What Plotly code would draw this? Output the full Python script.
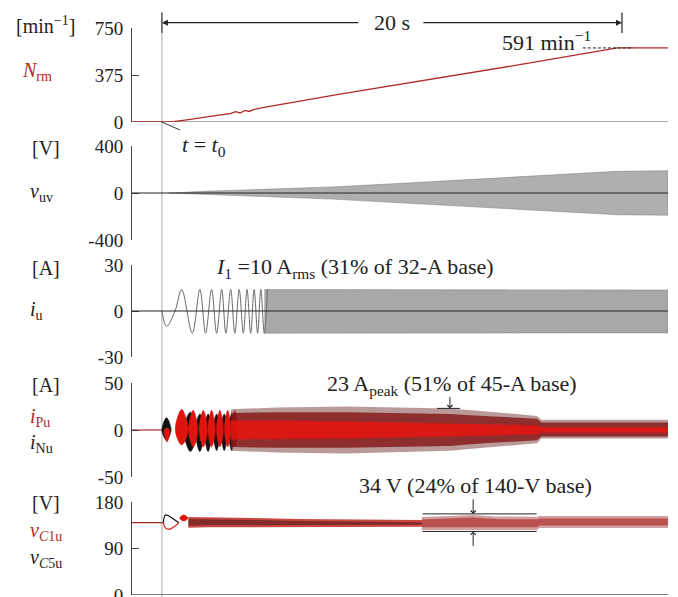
import plotly.graph_objects as go

W, H = 678, 597
ML, MR = 132, 10
FONT = "Liberation Serif"
RED = "#e0140f"
DRED = "#b02a2a"

# ---------------- data ----------------
t_range = [-1.3, 22.0]          # s, t = 0 is t0
ramp_end = 20.0                 # s
N_final = 591                   # min^-1

# speed N_rm
t_N = [-1.3, 0, 0.4, 1.0, 1.65, 2.5, 3.0, 3.2, 3.4, 3.6, 3.8, 4.0, 4.5, 7.74, 12, 16, 19.8, 22]
N_rm = [0, 0, 0, 15, 32, 55, 68, 82, 72, 92, 84, 100, 118, 222, 350, 471, 591, 591]

# v_uv envelope
vuv_t = [0.3, 1, 2, 3, 4, 5, 7.4, 10, 13, 16, 19.8, 22]
vuv_amp = [0, 8, 16, 22, 28, 35, 52, 78, 110, 145, 185, 190]

# i_u: first visible extremes, then envelope
iu_t = [0, 0.20, 0.57, 0.86, 1.32, 1.65, 1.90, 2.16, 2.38, 2.60, 2.78, 2.99, 3.17,
        3.36, 3.54, 3.70, 3.86, 4.01, 4.16, 4.30, 4.45, 4.59]
iu_v = [0, -10, 0, 14, -14.5, 14, -14.5, 14, -14.5, 14, -14.5, 14, -14.5,
        14, -14.5, 14, -14.5, 14, -14.5, 14, -14.5, 14]
iu_band_t = [4.45, 6, 10, 14, 18, 20, 22]
iu_band_hi = [14, 14, 14, 14, 13.8, 13.8, 13.8]
iu_band_lo = [-14.5, -14.5, -14.5, -14.5, -14.3, -14.3, -14.3]

# i_Pu / i_Nu early lobes (centre t, half width, top, bottom)
red_lobe_t = [0.22, 0.86, 1.36, 1.80, 2.16, 2.52, 2.86, 3.17]
red_lobe_hw = [0.12, 0.28, 0.2, 0.18, 0.16, 0.15, 0.14, 0.13]
red_lobe_top = [2, 22, 21, 21, 21, 21, 21, 21]
red_lobe_bot = [-13, -16, -18, -18, -18, -18, -18, -18]
blk_lobe_t = [0.2, 1.24, 1.65, 2.01, 2.38, 2.71, 3.03]
blk_lobe_hw = [0.2, 0.3, 0.2, 0.17, 0.16, 0.15, 0.14]
blk_lobe_top = [13, 19, 17, 17, 17, 17, 17]
blk_lobe_bot = [-11, -23, -23, -23, -22, -22, -22]
# i_Pu / i_Nu dense envelope
ipn_t = [3.0, 5, 8, 10, 12.5, 14, 15.5, 16.3, 16.5, 18, 20, 22]
ipn_outer_hi = [22, 24, 25, 24, 23, 20, 17, 15, 11, 11, 11, 11]
ipn_outer_lo = [-22, -24, -25, -24, -22, -19, -16, -14, -9, -9, -9, -9]
ipn_mid_hi = [18, 19, 19, 18, 17, 15, 13, 12, 8, 8, 8, 8]
ipn_mid_lo = [-18, -19, -19, -18, -17, -14, -12, -11, -7, -7, -7, -7]
ipn_core_hi = [10, 10, 9, 8, 7, 6, 5, 5, 3, 3, 3, 3]
ipn_core_lo = [-10, -10, -9, -8, -7, -6, -5, -5, -3, -3, -3, -3]
ipn_peak = 23  # A_peak marked

# capacitor voltages
vc_dc = 140
vc_ripple_pp = 34
knot_t = [0.06, 0.15, 0.3, 0.5, 0.74]
knot_top = [140, 155, 153, 147, 140]
knot_bot = [140, 130, 127, 131, 140]
vc_blob_t = [0.95]
vc_blob_hw = [0.18]
vc_blob_top = [155]
vc_blob_bot = [143]
vc1_t = [1.15, 2, 4, 6, 8, 10, 11.3]
vc1_hi = [151, 150, 149, 147, 146, 145, 145]
vc1_lo = [130, 131, 132, 132, 132, 132, 132]
vc2_t = [11.3, 12.5, 13.5, 14.5, 16.3, 16.4, 18, 20, 22]
vc2_hi = [151, 153, 155, 152, 151.5, 153, 153, 153, 153]
vc2_lo = [126, 125, 125, 126, 126, 129.5, 129.5, 129.5, 129.5]

# axes
rng_N, tick_N, lab_N = [0, 750], [0, 375, 750], ["0", "375", "750"]
rng_v, tick_v, lab_v = [-400, 400], [-400, 0, 400], ["-400", "0", "400"]
rng_i, tick_i, lab_i = [-30, 30], [-30, 0, 30], ["-30", "0", "30"]
rng_p, tick_p, lab_p = [-50, 50], [-50, 0, 50], ["-50", "0", "50"]
rng_c, tick_c, lab_c = [0, 180], [0, 90, 180], ["0", "90", "180"]


# ---------------- helpers ----------------
def px(x):
    return (x - ML) / (W - ML - MR)


def py(y):
    return 1 - y / H


def dom(top, bot):
    return [1 - bot / H, 1 - top / H]


def band(t, hi, lo):
    return list(t) + list(t)[::-1], list(hi) + list(lo)[::-1]


def lobes(tc, hw, top, bot):
    xs, ys = [], []
    for c, w, a, b in zip(tc, hw, top, bot):
        m = (a + b) / 2 if b > 0 else 0
        xs += [c - w, c, c + w, c, c - w, None]
        ys += [m, a, m, b, m, None]
    return xs, ys


fig = go.Figure()

# panel 1: speed
fig.add_trace(go.Scatter(x=t_N, y=N_rm, mode="lines", line=dict(color=DRED, width=1.3),
                         xaxis="x", yaxis="y"))

# panel 2: v_uv band
bx, by = band(vuv_t, vuv_amp, [-a for a in vuv_amp])
fig.add_trace(go.Scatter(x=bx, y=by, fill="toself", mode="lines",
                         line=dict(color="rgba(90,90,90,0.6)", width=0.6),
                         fillcolor="rgba(110,110,110,0.55)", xaxis="x", yaxis="y2"))

# panel 3: i_u
fig.add_trace(go.Scatter(x=iu_t, y=iu_v, mode="lines", line=dict(color="#6a6a6a", width=1, shape="spline"),
                         xaxis="x", yaxis="y3"))
bx, by = band(iu_band_t, iu_band_hi, iu_band_lo)
fig.add_trace(go.Scatter(x=bx, y=by, fill="toself", mode="lines",
                         line=dict(color="rgba(100,100,100,0.6)", width=0.6),
                         fillcolor="rgba(110,110,110,0.6)", xaxis="x", yaxis="y3"))

# panel 4: arm currents
fig.add_trace(go.Scatter(x=[t_range[0], 0], y=[0, 0], mode="lines", line=dict(color=DRED, width=1.2),
                         xaxis="x", yaxis="y4"))
lx, ly = lobes(blk_lobe_t, blk_lobe_hw, blk_lobe_top, blk_lobe_bot)
fig.add_trace(go.Scatter(x=lx, y=ly, fill="toself", mode="lines", line=dict(color="#111", width=0.5, shape="spline"),
                         fillcolor="#111", xaxis="x", yaxis="y4"))
lx, ly = lobes(red_lobe_t, red_lobe_hw, red_lobe_top, red_lobe_bot)
fig.add_trace(go.Scatter(x=lx, y=ly, fill="toself", mode="lines", line=dict(color=RED, width=0.5, shape="spline"),
                         fillcolor=RED, xaxis="x", yaxis="y4"))
for hi, lo, fc in [(ipn_outer_hi, ipn_outer_lo, "rgba(130,70,70,0.55)"),
                   (ipn_mid_hi, ipn_mid_lo, "rgba(130,15,15,0.78)"),
                   (ipn_core_hi, ipn_core_lo, "rgba(230,20,15,0.85)")]:
    bx, by = band(ipn_t, hi, lo)
    fig.add_trace(go.Scatter(x=bx, y=by, fill="toself", mode="lines", line=dict(width=0),
                             fillcolor=fc, xaxis="x", yaxis="y4"))

# panel 5: capacitor voltages
fig.add_trace(go.Scatter(x=[t_range[0], knot_t[0]], y=[vc_dc, vc_dc], mode="lines",
                         line=dict(color="#8a2020", width=1.2), xaxis="x", yaxis="y5"))
fig.add_trace(go.Scatter(x=knot_t, y=knot_top, mode="lines", line=dict(color="#111", width=1.2, shape="spline"),
                         xaxis="x", yaxis="y5"))
fig.add_trace(go.Scatter(x=knot_t, y=knot_bot, mode="lines", line=dict(color=RED, width=1.2, shape="spline"),
                         xaxis="x", yaxis="y5"))
lx, ly = lobes(vc_blob_t, vc_blob_hw, vc_blob_top, vc_blob_bot)
fig.add_trace(go.Scatter(x=lx, y=ly, fill="toself", mode="lines", line=dict(color=RED, width=0.5, shape="spline"),
                         fillcolor=RED, xaxis="x", yaxis="y5"))
bx, by = band(vc1_t, vc1_hi, vc1_lo)
fig.add_trace(go.Scatter(x=bx, y=by, fill="toself", mode="lines", line=dict(width=0),
                         fillcolor="rgba(190,25,20,0.8)", xaxis="x", yaxis="y5"))
bx, by = band(vc1_t, [v - 4 for v in vc1_hi], [v + 4 for v in vc1_lo])
fig.add_trace(go.Scatter(x=bx, y=by, fill="toself", mode="lines", line=dict(width=0),
                         fillcolor="rgba(40,10,10,0.45)", xaxis="x", yaxis="y5"))
bx, by = band(vc2_t, vc2_hi, vc2_lo)
fig.add_trace(go.Scatter(x=bx, y=by, fill="toself", mode="lines", line=dict(width=0),
                         fillcolor="rgba(170,80,80,0.55)", xaxis="x", yaxis="y5"))
bx, by = band(vc2_t, [v - 5 for v in vc2_hi], [v + 5 for v in vc2_lo])
fig.add_trace(go.Scatter(x=bx, y=by, fill="toself", mode="lines", line=dict(width=0),
                         fillcolor="rgba(170,30,30,0.6)", xaxis="x", yaxis="y5"))

# ---------------- layout ----------------
def yax(domain, rng, tv, tt):
    return dict(domain=domain, range=rng, tickvals=tv, ticktext=tt, anchor="x",
                ticks="inside", ticklen=7, tickcolor="#444", showline=True, linecolor="#444",
                linewidth=1, zeroline=False, showgrid=False, ticklabelstandoff=4, automargin=False,
                ticklabeloverflow="allow",
                tickfont=dict(family=FONT, size=19, color="#222"), fixedrange=True)


fig.update_layout(
    width=W, height=H, margin=dict(l=ML, r=MR, t=0, b=0, pad=0, autoexpand=False),
    paper_bgcolor="white", plot_bgcolor="white", showlegend=False,
    font=dict(family=FONT, size=19, color="#222"),
    xaxis=dict(domain=[0, 1], range=t_range, visible=False, anchor="y5", fixedrange=True, automargin=False),
    yaxis=yax(dom(28, 122), rng_N, tick_N, lab_N),
    yaxis2=yax(dom(146, 240), rng_v, tick_v, lab_v),
    yaxis3=yax(dom(265, 357), rng_i, tick_i, lab_i),
    yaxis4=yax(dom(383, 477), rng_p, tick_p, lab_p),
    yaxis5=yax(dom(502, 595), rng_c, tick_c, lab_c),
)

shapes = []
# horizontal base / zero lines
shapes.append(dict(type="line", xref="paper", yref="y", x0=0, x1=1, y0=0, y1=0,
                   line=dict(color="#555", width=1), layer="below"))
for ya in ["y2", "y3"]:
    shapes.append(dict(type="line", xref="paper", yref=ya, x0=0, x1=1, y0=0, y1=0,
                       line=dict(color="#222", width=1), layer="above"))
shapes.append(dict(type="line", xref="paper", yref="y5", x0=0, x1=1, y0=0, y1=0,
                   line=dict(color="#555", width=1.5), layer="above"))
# t0 vertical line
shapes.append(dict(type="line", xref="x", yref="paper", x0=0, x1=0, y0=0, y1=py(33),
                   line=dict(color="#aaa", width=1), layer="below"))
# 20 s end ticks
for tt in [0, ramp_end]:
    shapes.append(dict(type="line", xref="x", yref="paper", x0=tt, x1=tt, y0=py(33), y1=py(12.5),
                       line=dict(color="#222", width=1.2)))
# 591 dashed marker
shapes.append(dict(type="line", xref="x", yref="y", x0=18.3, x1=20.5, y0=N_final, y1=N_final,
                   line=dict(color="#222", width=1, dash="3px,2px")))
# 23 A bar
shapes.append(dict(type="line", xref="x", yref="y4", x0=11.96, x1=12.96, y0=ipn_peak, y1=ipn_peak,
                   line=dict(color="#222", width=1)))
# 34 V bars
for v in [vc_dc + vc_ripple_pp / 2, vc_dc - vc_ripple_pp / 2]:
    shapes.append(dict(type="line", xref="x", yref="y5", x0=11.33, x1=16.29, y0=v, y1=v,
                       line=dict(color="#222", width=1)))
fig.update_layout(shapes=shapes)

ann = []
LF = 20
# left labels
labels = [
    ("[min<sup>−1</sup>]", 14, 25, "#222"),
    ("<i>N</i><sub>rm</sub>", 20, 72, DRED),
    ("[V]", 30, 148, "#222"),
    ("<i>v</i><sub>uv</sub>", 28, 192, "#222"),
    ("[A]", 30, 268, "#222"),
    ("<i>i</i><sub>u</sub>", 28, 310, "#222"),
    ("[A]", 30, 385, "#222"),
    ("<i>i</i><sub>Pu</sub>", 28, 417, DRED),
    ("<i>i</i><sub>Nu</sub>", 28, 443, "#222"),
    ("[V]", 30, 503, "#222"),
    ("<i>v</i><sub><i>C</i>1u</sub>", 28, 531, DRED),
    ("<i>v</i><sub><i>C</i>5u</sub>", 28, 558, "#222"),
]
for txt, x, y, c in labels:
    ann.append(dict(text=txt, xref="paper", yref="paper", x=px(x), y=py(y), xanchor="left",
                    yanchor="middle", showarrow=False, font=dict(family=FONT, size=LF, color=c)))

AF = 22
# 20 s arrow
ann.append(dict(text="20 s", xref="x", yref="paper", x=ramp_end / 2, y=py(22.7), showarrow=False,
                xanchor="center", yanchor="middle", font=dict(family=FONT, size=AF)))
ann.append(dict(text="", xref="x", yref="paper", x=0, y=py(22.7), axref="x", ax=8.6, ayref="pixel", ay=0,
                showarrow=True, arrowhead=2, arrowsize=1, arrowwidth=1.2, arrowcolor="#222"))
ann.append(dict(text="", xref="x", yref="paper", x=ramp_end, y=py(22.7), axref="x", ax=11.3, ayref="pixel", ay=0,
                showarrow=True, arrowhead=2, arrowsize=1, arrowwidth=1.2, arrowcolor="#222"))
# 591 label
ann.append(dict(text=f"{N_final} min<sup>−1</sup>", xref="x", yref="y", x=16.7, y=646, showarrow=False,
                xanchor="center", yanchor="middle", font=dict(family=FONT, size=AF)))
# t = t0
ann.append(dict(text="<i>t</i> = <i>t</i><sub>0</sub>", xref="x", yref="y", x=0, y=0, ax=18, ay=8,
                xanchor="left", yanchor="top", showarrow=True, arrowhead=0, arrowwidth=1, arrowcolor="#333",
                font=dict(family=FONT, size=AF)))
# I1 text
ann.append(dict(text="<i>I</i><sub>1</sub> =10 A<sub>rms</sub> (31% of 32-A base)", xref="x", yref="y3",
                x=8.4, y=28, showarrow=False, xanchor="center", yanchor="middle", font=dict(family=FONT, size=AF)))
# 23 A peak
ann.append(dict(text=f"{ipn_peak} A<sub>peak</sub> (51% of 45-A base)", xref="x", yref="y4",
                x=12.6, y=48, showarrow=False, xanchor="center", yanchor="middle", font=dict(family=FONT, size=AF)))
ann.append(dict(text="", xref="x", yref="y4", x=12.52, y=ipn_peak, ax=0, ay=-13, showarrow=True,
                arrowhead=4, arrowsize=1, arrowwidth=1, arrowcolor="#222"))
# 34 V
ann.append(dict(text=f"{vc_ripple_pp} V (24% of 140-V base)", xref="x", yref="paper",
                x=13.65, y=py(485), showarrow=False, xanchor="center", yanchor="middle",
                font=dict(family=FONT, size=AF)))
ann.append(dict(text="", xref="x", yref="y5", x=13.53, y=vc_dc + vc_ripple_pp / 2, ax=0, ay=-16, showarrow=True,
                arrowhead=4, arrowsize=1, arrowwidth=1, arrowcolor="#222"))
ann.append(dict(text="", xref="x", yref="y5", x=13.53, y=vc_dc - vc_ripple_pp / 2, ax=0, ay=16, showarrow=True,
                arrowhead=4, arrowsize=1, arrowwidth=1, arrowcolor="#222"))
fig.update_layout(annotations=ann)

fig.write_html("out.html", config={"displayModeBar": False},
               post_script="document.body.style.margin='0';document.body.style.overflow='hidden';")
